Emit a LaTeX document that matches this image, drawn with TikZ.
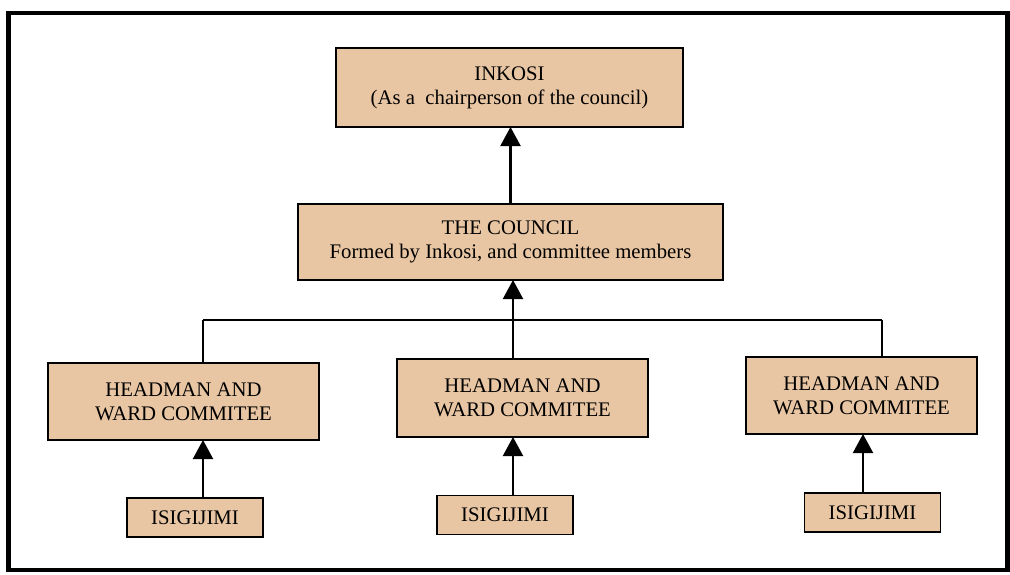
\documentclass[tikz,border=0pt]{standalone}
\usepackage{fontspec}
\setmainfont{Liberation Serif}
\usepackage{xcolor}
\usetikzlibrary{arrows.meta,calc}
\definecolor{boxtan}{RGB}{233,198,163}

\begin{document}
\begin{tikzpicture}[main node/.style={draw, line width=1pt, fill=boxtan, inner sep=0pt, outer sep=0pt, align=center, font=\fontsize{11.8}{13.6}\selectfont},
  leaf node/.style={main node, minimum width=2.72cm, minimum height=0.78cm},
  arr/.style={line width=1.2pt, -{Triangle[width=0.4cm,length=0.38cm]}},
  bus/.style={line width=0.8pt}]
\useasboundingbox (0,0) rectangle (20.2,-11.48);
\draw [line width=2.3pt] (0.17,-0.26) rectangle (20.15,-11.4);
\node[main node, minimum width=6.94cm, minimum height=1.58cm] (inkosi) at (10.19,-1.75) {INKOSI\\(As a~ chairperson of the council)};
\node[main node, minimum width=8.5cm, minimum height=1.52cm] (council) at (10.21,-4.84) {THE COUNCIL\\Formed by Inkosi, and committee members};
\node[main node, minimum width=5.42cm, minimum height=1.54cm] (hm1) at (3.67,-8.03) {HEADMAN AND\\WARD COMMITEE};
\node[main node, minimum width=5.02cm, minimum height=1.56cm] (hm2) at (10.45,-7.96) {HEADMAN AND\\WARD COMMITEE};
\node[main node, minimum width=4.62cm, minimum height=1.54cm] (hm3) at (17.23,-7.91) {HEADMAN AND\\WARD COMMITEE};
\node[leaf node] (isig1) at (3.9,-10.35) {ISIGIJIMI};
\node[leaf node] (isig2) at (10.1,-10.3) {ISIGIJIMI};
\node[leaf node] (isig3) at (17.45,-10.25) {ISIGIJIMI};
\coordinate (b1) at (4.06,-6.4);
\coordinate (b2) at (10.26,-6.4);
\coordinate (b3) at (17.64,-6.4);
\coordinate (a3) at (17.26,-9);
% council up to inkosi
\draw[arr] (council.north) -- (council.north |- inkosi.south);
% the bus below the council
\draw[bus] (b1) -- (b3);
\draw[arr] (b2) -- (b2 |- council.south);
\draw[bus] (b1) -- (b1 |- hm1.north);
\draw[bus] (b2) -- (b2 |- hm2.north);
\draw[bus] (b3) -- (b3 |- hm3.north);
% isigijimi up to the headmen
\draw[arr] (isig1.north -| b1) -- (hm1.south -| b1);
\draw[arr] (isig2.north -| b2) -- (hm2.south -| b2);
\draw[arr] (isig3.north -| a3) -- (hm3.south -| a3);
\end{tikzpicture}
\end{document}
